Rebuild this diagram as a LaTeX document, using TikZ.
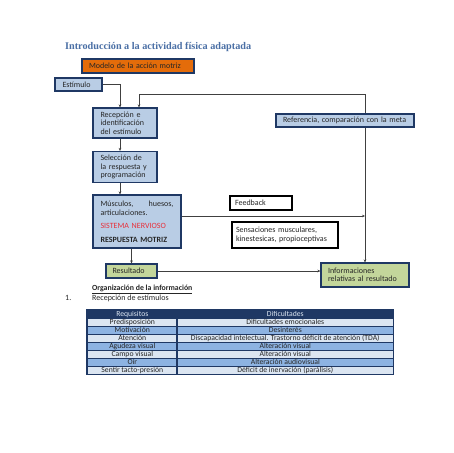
\documentclass[tikz,border=0pt]{standalone}
\usepackage{fontspec}
\setmainfont{Carlito}
\newfontfamily\titlefont{Liberation Serif}
\usetikzlibrary{arrows.meta}
\definecolor{navy}{HTML}{1F3864}
\definecolor{lblue}{HTML}{B9CDE5}
\definecolor{lgreen}{HTML}{C3D69B}
\definecolor{orng}{HTML}{E46C0A}
\definecolor{titleblue}{HTML}{4A6FA5}
\definecolor{txt}{HTML}{262626}
\definecolor{linec}{HTML}{404040}
\definecolor{rowlt}{HTML}{DBE5F1}
\definecolor{rowmd}{HTML}{8DB3E2}
\definecolor{hdrtxt}{HTML}{DCE6F2}
\definecolor{redtxt}{HTML}{E8303A}
\begin{document}
\begin{tikzpicture}[x=1pt,y=-1pt,
  font=\fontsize{8}{8.5}\selectfont,
  bluebox/.style={draw=navy, line width=1.2pt, fill=lblue, inner sep=0pt, text=txt, align=left},
  greenbox/.style={draw=navy, line width=1.2pt, fill=lgreen, inner sep=0pt, text=txt, align=left},
  whitebox/.style={draw=black, line width=1.2pt, fill=white, inner sep=0pt, text=txt, align=left},
  conn/.style={draw=linec, line width=0.6pt, -{Stealth[length=3pt,width=2.6pt]}},
  plain/.style={draw=linec, line width=0.6pt},
  cell/.style={draw=navy, line width=0.6pt, inner sep=0pt, minimum height=8, text height=5.4pt, text depth=1.6pt, text=txt,
    font=\fontsize{7.7}{7.7}\selectfont, anchor=north west}]
\useasboundingbox (0,0) rectangle (453,453);
\fill[white] (0,0) rectangle (453,453);

% title
\node[anchor=west, inner sep=0pt, text=titleblue, font=\titlefont\bfseries\fontsize{10.2}{11}\selectfont] (title) at (65,47) {Introducción a la actividad física adaptada};

% boxes
\node[draw=navy, line width=1.2pt, fill=orng, inner sep=0pt, text=txt, align=left,
  minimum width=112, minimum height=14, text width=98] (modelo) at (138,66) {Modelo de la acción motriz};
\node[bluebox, minimum width=47, minimum height=13, text width=32] (estimulo) at (78.5,84.5) {Estímulo};
\node[bluebox, minimum width=64, minimum height=30, text width=49] (recep) at (125,123) {Recepción e\\identificación\\del estímulo};
\node[bluebox, minimum width=64, minimum height=31, text width=49] (selec) at (125,167) {Selección de\\la respuesta y\\programación};
\node[bluebox, minimum width=88, minimum height=53, text width=73] (musc) at (137,221.5)
  {\hbox to 73pt{Músculos,\hfill huesos,}\\articulaciones.\\[5pt]\textcolor{redtxt}{SISTEMA NERVIOSO}\\[5pt]\textbf{RESPUESTA MOTRIZ}};
\node[bluebox, minimum width=138, minimum height=13, text width=124] (ref) at (345,120.5) {Referencia, comparación con la meta};
\node[whitebox, minimum width=62, minimum height=14, text width=52] (feed) at (261,203) {Feedback};
\node[whitebox, minimum width=106, minimum height=26, text width=98] (sens) at (285,235) {Sensaciones musculares,\\kinestesicas, propioceptivas};
\node[greenbox, minimum width=51, minimum height=14, text width=38] (res) at (131.5,271) {Resultado};
\node[greenbox, minimum width=88, minimum height=24, text width=74] (info) at (365,275) {Informaciones\\relativas al resultado};

% connectors
\coordinate (top) at (365,94);
\coordinate (fb) at (365,216);
\draw[conn] (estimulo.east) -| ([xshift=-5pt]recep.north);
\draw[plain] (top) -- (ref.north -| top);
\draw[conn] (ref.south -| top) -- (info.north);
\draw[conn] (top) -| ([xshift=14pt]recep.north);
\draw[conn] ([xshift=-5pt]recep.south) -- ([xshift=-5pt]selec.north);
\draw[conn] ([xshift=-5pt]selec.south) -- ([xshift=-5pt]selec.south |- musc.north);
\draw[conn] (musc.east |- fb) -- (fb);
\draw[conn] (res.north |- musc.south) -- (res.north);
\draw[conn] (res.east) -- (res.east -| info.west);

% text below
\node[anchor=west, inner sep=0pt, text=txt, font=\bfseries\fontsize{7.8}{8}\selectfont] (org) at (92,289) {\underline{Organización de la información}};
\node[anchor=west, inner sep=0pt, text=txt] (num) at (65,298) {1.};
\node[anchor=west, inner sep=0pt, text=txt] (recest) at (92,298) {Recepción de estímulos};

% table
\node[cell, fill=navy, minimum width=90, text=hdrtxt] (r0a) at (87,310) {Requisitos};
\node[cell, fill=navy, minimum width=216, text=hdrtxt] (r0b) at (177,310) {Dificultades};
\foreach \i/\a/\b/\f in {1/Predisposición/Dificultades emocionales/rowlt,
  2/Motivación/Desinterés/rowmd,
  3/Atención/Discapacidad intelectual. Trastorno déficit de atención (TDA)/rowlt,
  4/Agudeza visual/Alteración visual/rowmd,
  5/Campo visual/Alteración visual/rowlt,
  6/Oír/Alteración audiovisual/rowmd,
  7/Sentir tacto-presión/Déficit de inervación (parálisis)/rowlt}{
  \node[cell, fill=\f, minimum width=90] (r\i a) at (87,{310+8*\i}) {\a};
  \node[cell, fill=\f, minimum width=216] (r\i b) at (177,{310+8*\i}) {\b};
}
\draw[navy, line width=1.2pt] (r0a.north west) rectangle (r7b.south east);
\draw[navy, line width=1.2pt] (r0b.north west) -- (r7b.south west);
\end{tikzpicture}
\end{document}
